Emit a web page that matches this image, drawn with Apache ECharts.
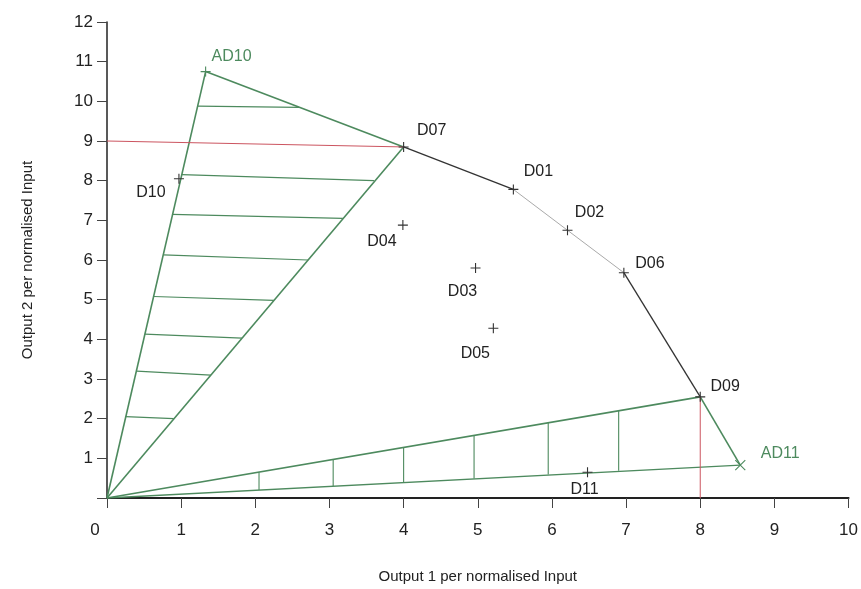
<!DOCTYPE html>
<html><head><meta charset="utf-8">
<script src="https://cdn.jsdelivr.net/npm/echarts@6/dist/echarts.min.js"></script>
<style>html,body{margin:0;padding:0;background:#fff}#c{width:861px;height:589px}</style>
</head><body><div id="c"></div>
<script>
// ---- data ----
const dmuNames = ['AD10','D07','D01','D02','D06','D09','AD11','D11','D03','D05','D04','D10','D08','D12'];
const dmuX     = [1.33, 4.0, 5.48, 6.21, 6.97, 8.0, 8.54, 6.48, 4.97, 5.21, 3.99, 0.97, 1.84, 2.98];
const dmuY     = [10.75, 8.85, 7.78, 6.75, 5.68, 2.55, 0.83, 0.65, 5.8, 4.28, 6.88, 8.05, 7.53, 8.45];
const xTicks = [0,1,2,3,4,5,6,7,8,9,10];
const yTicks = [0,1,2,3,4,5,6,7,8,9,10,11,12];
// frontier (efficient) segments
const frontierDark1 = ['D07','D01'];
const frontierLight = ['D01','D02','D06'];
const frontierDark2 = ['D06','D09'];
// green cone lines (from origin)
const origin = [0,0];
const coneTop = ['AD10','D07'];
const coneBottom = ['D09','AD11'];
// left hatch segments: [xLeft,yLeft,xRight,yRight]
const hatchLeftXL = [1.22, 1.01, 0.88, 0.76, 0.63, 0.51, 0.40, 0.25];
const hatchLeftYL = [9.88, 8.15, 7.15, 6.13, 5.08, 4.13, 3.20, 2.05];
const hatchLeftXR = [2.59, 3.60, 3.18, 2.71, 2.25, 1.82, 1.40, 0.90];
const hatchLeftYR = [9.85, 8.00, 7.05, 6.00, 4.98, 4.03, 3.10, 2.00];
// bottom hatch segments: vertical at x from low to high
const hatchBotX    = [2.05, 3.05, 4.0, 4.95, 5.95, 6.9];
const hatchBotLow  = [0.20, 0.30, 0.40, 0.49, 0.59, 0.69];
const hatchBotHigh = [0.65, 0.97, 1.28, 1.58, 1.90, 2.20];
// red reference lines
const redH = [[0, 9.0], [4.0, 8.85]];
const redV = [[8.0, 2.55], [8.0, 0]];

// ---- styles ----
const GREEN = '#4d8a5e', RED = '#cc5560', DARK = '#333', LIGHT = '#aaa';
const FONT = 'Liberation Sans, Arial, sans-serif';
const labelOffsets = {
  AD10:[26,-15], D07:[28,-16], D01:[25,-18], D02:[22,-18], D06:[26,-9], D09:[25,-10],
  AD11:[40,-11], D11:[-3,17], D03:[-13,24], D05:[-18,25], D04:[-21,17], D10:[-28,14],
  D08:[0,0], D12:[0,0]
};
const greenNames = ['AD10','AD11'];
const noMarker = ['D08','D12'];
const PLUS = 'path://M5,0 L5,10 M0,5 L10,5';
const CROSS = 'path://M0,0 L10,10 M10,0 L0,10';

const pt = n => { const i = dmuNames.indexOf(n); return [dmuX[i], dmuY[i]]; };
const seg = (pts, color, width) => ({
  type:'line', data: pts, symbol:'none', silent:true, animation:false,
  lineStyle:{color, width}, z:2
});

const series = [];
series.push(seg(frontierDark1.map(pt), DARK, 1.3));
series.push(seg(frontierLight.map(pt), LIGHT, 1));
series.push(seg(frontierDark2.map(pt), DARK, 1.3));
series.push(seg([origin, pt('AD10')], GREEN, 1.6));
series.push(seg([origin, pt('D07')], GREEN, 1.6));
series.push(seg(coneTop.map(pt), GREEN, 1.6));
series.push(seg([origin, pt('D09')], GREEN, 1.6));
series.push(seg([origin, pt('AD11')], GREEN, 1.3));
series.push(seg(coneBottom.map(pt), GREEN, 1.6));
hatchLeftXL.forEach((x,i) => series.push(seg([[x,hatchLeftYL[i]],[hatchLeftXR[i],hatchLeftYR[i]]], GREEN, 1.2)));
hatchBotX.forEach((x,i) => series.push(seg([[x,hatchBotLow[i]],[x,hatchBotHigh[i]]], GREEN, 1.1)));
series.push(seg(redH, RED, 1));
series.push(seg(redV, RED, 1));

series.push({
  type:'scatter', animation:false, z:5,
  data: dmuNames.map((n,i) => {
    const g = greenNames.includes(n);
    const hide = noMarker.includes(n);
    return {
      value:[dmuX[i], dmuY[i]], name:n,
      symbol: n === 'AD11' ? CROSS : PLUS,
      symbolSize: hide ? 0 : 10,
      itemStyle:{color:'none', borderColor: g ? GREEN : DARK, borderWidth: 1.1, opacity: hide ? 0 : 1},
      label:{show:true, formatter:n, position:'inside', offset:labelOffsets[n],
             color: g ? GREEN : '#222', fontSize:16, fontFamily:FONT}
    };
  })
});

const chart = echarts.init(document.getElementById('c'), null, {renderer:'canvas'});
chart.setOption({
  backgroundColor:'#fff',
  animation:false,
  grid:{left:107, right:9, top:22, bottom:86, containLabel:false},
  xAxis:{
    type:'value', min:xTicks[0], max:xTicks[xTicks.length-1], interval:1,
    name:'Output 1 per normalised Input', nameLocation:'middle', nameGap:71,
    nameTextStyle:{fontSize:15, color:'#222', fontFamily:FONT},
    axisLine:{lineStyle:{color:'#222', width:2}},
    axisTick:{show:true, length:10, lineStyle:{color:'#444'}},
    axisLabel:{fontSize:17, color:'#222', margin:24, fontFamily:FONT,
      formatter: v => v === 0 ? '{z|0}' : (xTicks.includes(v) ? String(v) : ''),
      rich:{z:{fontSize:17, color:'#222', fontFamily:FONT, padding:[0,24,0,0]}}},
    splitLine:{show:false}
  },
  yAxis:{
    type:'value', min:yTicks[0], max:yTicks[yTicks.length-1], interval:1,
    name:'Output 2 per normalised Input', nameLocation:'middle', nameGap:72, nameRotate:90,
    nameTextStyle:{fontSize:15, color:'#222', fontFamily:FONT},
    axisLine:{show:true, lineStyle:{color:'#222', width:1.5}},
    axisTick:{show:true, length:10, lineStyle:{color:'#444'}},
    axisLabel:{fontSize:17, color:'#222', margin:14, fontFamily:FONT,
      formatter: v => v === 0 ? '' : String(v)},
    splitLine:{show:false}
  },
  series
});
</script></body></html>
